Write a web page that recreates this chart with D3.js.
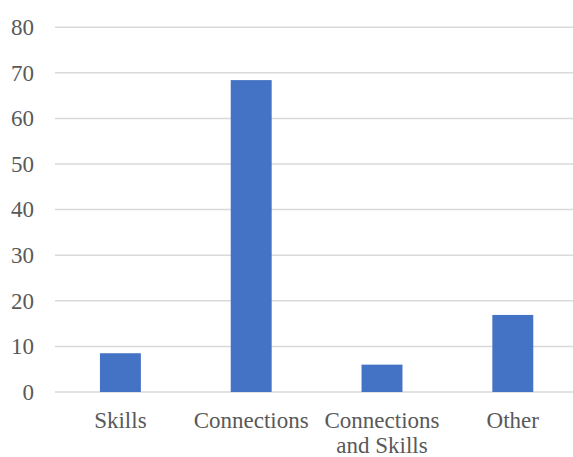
<!DOCTYPE html>
<html><head><meta charset="utf-8">
<script src="https://cdn.jsdelivr.net/npm/d3@7"></script>
</head><body style="margin:0;background:#fff">
<script>
const categories = [["Skills"], ["Connections"], ["Connections", "and Skills"], ["Other"]];
const values = [8.5, 68.4, 6, 16.9];
const yTicks = [0, 10, 20, 30, 40, 50, 60, 70, 80];

const W = 573, H = 457;
const FONT = '"Liberation Serif", Tinos, "Times New Roman", Times, serif';
const svg = d3.select("body").append("svg").attr("width", W).attr("height", H)
  .style("display", "block").style("font-family", FONT).attr("font-family", FONT);
const x = d3.scaleBand().domain(d3.range(categories.length)).range([55, 578.2]).paddingInner(0.687).paddingOuter(0.3435);
const y = d3.scaleLinear().domain([0, 80]).range([392, 27.2]);

svg.append("g").selectAll("line").data(yTicks).join("line")
  .attr("x1", 55).attr("x2", 573)
  .attr("y1", d => y(d)).attr("y2", d => y(d))
  .attr("stroke", "#d9d9d9").attr("stroke-width", 1.5);

svg.append("g").selectAll("text").data(yTicks).join("text")
  .attr("x", 34).attr("y", d => y(d)).attr("dy", "0.34em")
  .attr("text-anchor", "end").attr("fill", "#595959")
  .style("font-family", FONT).style("font-size", "23px")
  .text(d => String(d));

svg.append("g").selectAll("rect").data(values).join("rect")
  .attr("x", (d, i) => x(i)).attr("width", x.bandwidth())
  .attr("y", d => y(d)).attr("height", d => y(0) - y(d))
  .attr("fill", "#4472c4");

const xl = svg.append("g").selectAll("text").data(categories).join("text")
  .attr("text-anchor", "middle").attr("fill", "#595959")
  .style("font-family", FONT).style("font-size", "23px");
xl.each(function(lines, i) {
  const cx = x(i) + x.bandwidth() / 2;
  lines.forEach((line, k) => {
    d3.select(this).append("tspan").attr("x", cx).attr("y", 428 + k * 25)
      .style("font-family", FONT).text(line);
  });
});
</script>
</body></html>
